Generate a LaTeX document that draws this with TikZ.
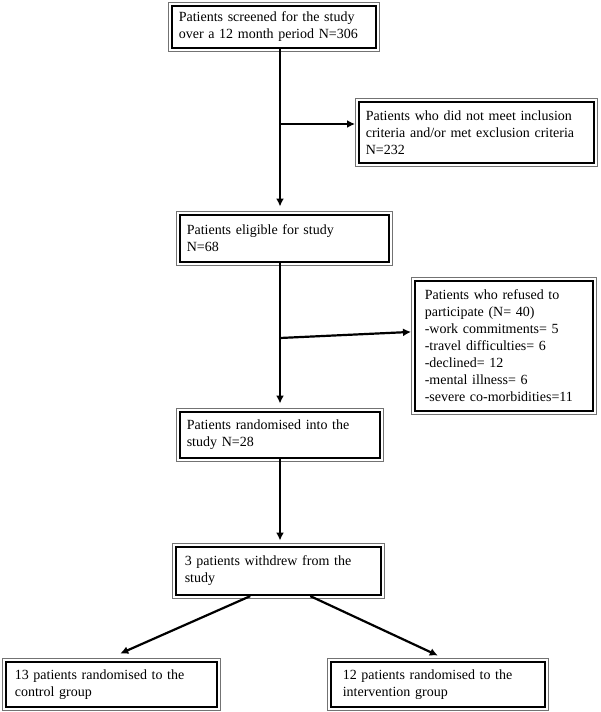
\documentclass[tikz,border=0pt]{standalone}
\usepackage{fontspec}
\setmainfont{Liberation Serif}
\usetikzlibrary{arrows.meta}

\tikzset{
  flowbox/.style={draw, line width=2.6pt, anchor=north west, align=left,
    inner xsep=7pt, inner ysep=3pt, font=\fontsize{14}{17}\selectfont},
  flowarrow/.style={line width=2.2pt, -{Latex[length=8pt,width=8pt]}}
}
% thin grey rim round a box
\newcommand{\boxrim}[1]{%
  \draw[line width=0.8pt, black!55] ([shift={(-2pt,2pt)}]#1.north west)
    rectangle ([shift={(2pt,-2pt)}]#1.south east);}

\begin{document}
\begin{tikzpicture}[x=1pt,y=-1pt]
\useasboundingbox (0,0) rectangle (600,712);

% The main column of boxes
\node[flowbox, text width=190pt, minimum height=42pt] (screen) at (170.5,4.5)
  {Patients screened for the study\\over a 12 month period N=306};
\node[flowbox, text width=195pt, minimum height=47pt] (elig) at (178.5,213.5)
  {Patients eligible for study\\N=68};
\node[flowbox, text width=186pt, minimum height=46pt] (rand) at (178.5,410.5)
  {Patients randomised into the\\study N=28};
\node[flowbox, text width=187pt, minimum height=48pt, inner xsep=9pt] (wd) at (174.5,545.5)
  {3 patients withdrew from the\\study};

% Boxes on the side
\node[flowbox, text width=221pt, minimum height=61pt] (excl) at (357.5,100.5)
  {Patients who did not meet inclusion\\criteria and/or met exclusion criteria\\N=232};
\node[flowbox, text width=158pt, minimum height=130pt, inner xsep=10pt] (refused) at (413.5,279.5)
  {Patients who refused to\\participate (N= 40)\\-work commitments= 5\\-travel difficulties= 6\\-declined= 12\\-mental illness= 6\\-severe co-morbidities=11};

% The two groups
\node[flowbox, text width=193pt, minimum height=45pt, inner xsep=9pt] (ctrl) at (4.5,660.5)
  {13 patients randomised to the\\control group};
\node[flowbox, text width=190pt, minimum height=45pt, inner xsep=12pt] (intv) at (329.5,660.5)
  {12 patients randomised to the\\intervention group};

\boxrim{screen}
\boxrim{elig}
\boxrim{rand}
\boxrim{wd}
\boxrim{excl}
\boxrim{refused}
\boxrim{ctrl}
\boxrim{intv}

% Trunk and branches
\coordinate (trunk) at (280,0);
\coordinate (j1) at (280,124);
\coordinate (j2) at (280,338);
\draw[flowarrow, shorten >=7pt] (screen.south -| trunk) -- (elig.north -| trunk);
\draw[flowarrow, shorten >=2.5pt] (j1) -- (j1 -| excl.west);
\draw[flowarrow, shorten >=7pt] (elig.south -| trunk) -- (rand.north -| trunk);
\draw[flowarrow, shorten >=2.5pt] (j2) -- ([yshift=14pt]refused.west);
\draw[flowarrow, shorten >=5pt] (rand.south -| trunk) -- (wd.north -| trunk);

% Split into the groups
\draw[flowarrow] ([xshift=-28pt]wd.south) -- ([xshift=9pt,yshift=7pt]ctrl.north);
\draw[flowarrow] ([xshift=32pt]wd.south) -- ([yshift=5pt]intv.north);
\end{tikzpicture}
\end{document}
